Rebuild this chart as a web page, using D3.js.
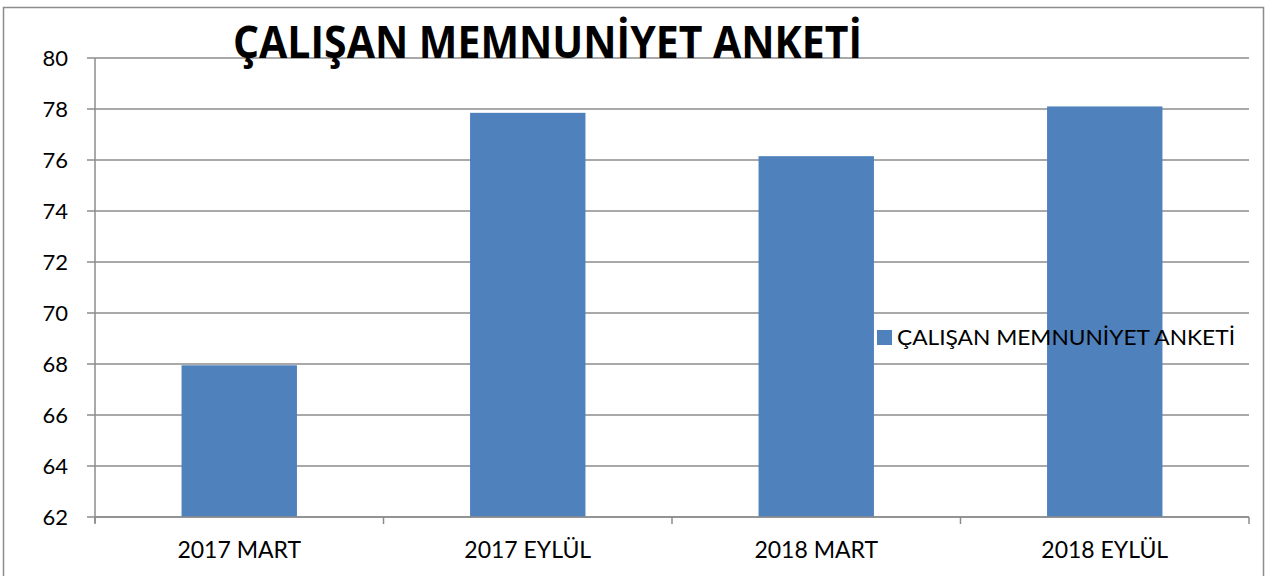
<!DOCTYPE html>
<html><head><meta charset="utf-8">
<script src="https://cdn.jsdelivr.net/npm/d3@7"></script>
<style>body{margin:0;background:#fff}svg{display:block}</style>
</head><body>
<svg id="c" width="1266" height="576"></svg>
<script>
const categories = ["2017 MART", "2017 EYLÜL", "2018 MART", "2018 EYLÜL"];
const values = [67.95, 77.85, 76.15, 78.1];
const yTicks = [62, 64, 66, 68, 70, 72, 74, 76, 78, 80];
const seriesName = "ÇALIŞAN MEMNUNİYET ANKETİ";
const titleText = "ÇALIŞAN MEMNUNİYET ANKETİ";

(function () {
const svg = d3.select("#c");
const font = "Lato, 'Open Sans', sans-serif";
const grid = "#8c8c8c";
const barColor = "#4f81bd";

// outer frame
svg.append("rect").attr("x", 3.5).attr("y", 7.5).attr("width", 1260).attr("height", 600)
  .attr("fill", "none").attr("stroke", "#8c8c8c").attr("stroke-width", 1.5);

const pLeft = 95, pRight = 1249, pTop = 58, pBottom = 517;
const x = d3.scaleBand().domain(categories).range([pLeft, pRight]).paddingInner(0.6).paddingOuter(0.3);
const y = d3.scaleLinear().domain([62, 80]).range([pBottom, pTop]);

// gridlines
svg.append("g").selectAll("line").data(yTicks).join("line")
  .attr("x1", pLeft - 8).attr("x2", pRight)
  .attr("y1", d => y(d)).attr("y2", d => y(d))
  .attr("stroke", grid).attr("stroke-width", 1.5);

// bars
svg.append("g").selectAll("rect").data(values).join("rect")
  .attr("x", (d, i) => x(categories[i]))
  .attr("y", d => y(d))
  .attr("width", x.bandwidth())
  .attr("height", d => y(62) - y(d))
  .attr("fill", barColor);

// y axis line
svg.append("line").attr("x1", pLeft).attr("x2", pLeft).attr("y1", pTop).attr("y2", pBottom + 6)
  .attr("stroke", grid).attr("stroke-width", 1.5);
// x axis line
svg.append("line").attr("x1", pLeft).attr("x2", pRight).attr("y1", pBottom).attr("y2", pBottom)
  .attr("stroke", grid).attr("stroke-width", 1.5);
// x ticks at band boundaries
const step = (pRight - pLeft) / categories.length;
const bounds = d3.range(categories.length + 1).map(i => pLeft + i * step);
svg.append("g").selectAll("line").data(bounds).join("line")
  .attr("x1", d => d).attr("x2", d => d).attr("y1", pBottom).attr("y2", pBottom + 7)
  .attr("stroke", grid).attr("stroke-width", 1.5);

// y labels
svg.append("g").selectAll("text").data(yTicks).join("text")
  .attr("x", 68).attr("y", d => y(d)).attr("dy", "0.36em")
  .attr("text-anchor", "end").attr("font-family", font).attr("font-size", 22)
  .attr("fill", "#000").text(d => d);

// x labels
svg.append("g").selectAll("text").data(categories).join("text")
  .attr("x", d => x(d) + x.bandwidth() / 2).attr("y", 558)
  .attr("text-anchor", "middle").attr("font-family", font).attr("font-size", 23)
  .attr("fill", "#000").text(d => d);

// title
svg.append("text").attr("x", 233).attr("y", 58)
  .attr("font-family", "'Open Sans', Lato, sans-serif").attr("font-weight", "bold").attr("font-size", 44)
  .attr("textLength", 629).attr("lengthAdjust", "spacingAndGlyphs")
  .attr("fill", "#000").text(titleText);

// legend
svg.append("rect").attr("x", 877).attr("y", 330).attr("width", 15).attr("height", 15).attr("fill", barColor);
svg.append("text").attr("x", 897).attr("y", 345)
  .attr("font-family", font).attr("font-size", 21)
  .attr("textLength", 338).attr("lengthAdjust", "spacingAndGlyphs")
  .attr("fill", "#000").text(seriesName);
})();
</script>
</body></html>
